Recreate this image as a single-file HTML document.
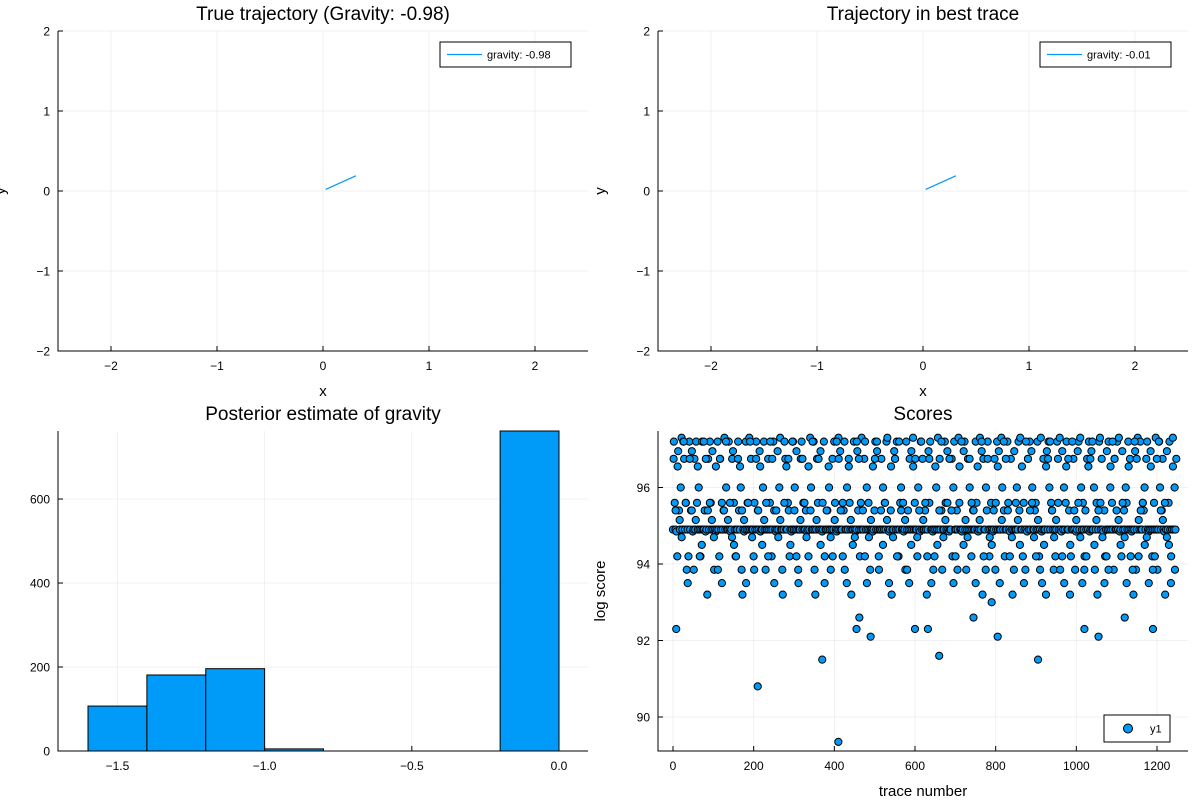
<!DOCTYPE html>
<html><head><meta charset="utf-8"><style>
body{margin:0;background:#fff}
svg{display:block;font-family:"Liberation Sans","DejaVu Sans",sans-serif}
</style></head><body>
<svg id="chart" width="1200" height="800" viewBox="0 0 1200 800"></svg>
<script>
// ---- data ----
const trajTrueX = [0.025, 0.31];
const trajTrueY = [0.02, 0.19];
const trajBestX = [0.025, 0.31];
const trajBestY = [0.02, 0.19];
const histEdges = [-1.6, -1.4, -1.2, -1.0, -0.8, -0.6, -0.4, -0.2, 0.0];
const histCounts = [107, 181, 196, 5, 0, 0, 0, 762];
const histTicks = [-1.5, -1.0, -0.5, 0.0];
const histYTicks = [0, 200, 400, 600];
const scoreLevels = {a:97.3,b:97.2,c:96.95,d:96.75,e:96.0,f:95.6,g:95.4,h:94.9,i:94.85,j:94.2,k:93.85,l:93.2,n:94.7,o:95.15,p:96.55,q:93.5,r:94.5};
const scoreCodes =
"hbfhijcgheahbdhfkhjbhgcihdhbfhehjhbhhgihldhbfhchkhihbhjdhfhgahehhbhihdcfhjhhbgheklhihbhfh"+
"ahdhhjfhbhghcihhebhkhhdhfhjhbghihcheahhlhbdhhfgjhihbhehchkhhdbhfhhgihjhaehhbhlhdfhhchih"+
"bjhhghehkhdhbfhihahchhjgbhhehdfhlhhbhihcghjhahhdbhehfhkhhihgbhchjhhdhehfhbahihglhhcdhbhj"+
"hfehhihkbhghdhchahfhhjehibhdhhghlhcfbhhihjhehahdhgkhhbfhchihhdjebhhghafhhihcbhkhdhehjhgh"+
"hbfhihahcldhhegbhjhfhihdkhbhchhaehgjhhbfhidhlhchhehbgahhjfhkhidhbhcehhgfhbhjhaihdhhlchbe"+
"hfghkhjhbdhahichehfbhhgljhhdhkihcbhaehfhjghdhbihchhekhflhbahdhigjhchbhehfhkdhhbhaihjchgh"+
"efhbhdhihlhckhajhbhhfgehdbhihchjhfhahkhbehgdhilhchfbhjhahehd";
const scoreCodes2 =
"dgponbfqdgkopjrbdgfonpkdqgbofnrjdpgoqfbnkdgprofjbdqgnokfpdrbgjqodfnpgbkodrfqgpnjobdgf"+
"kqpornbdfgjqnopdbkgrfoqpndjbgfokqrpdngbofjdqkprgbnofdgqjkpbrondfgqpobjkdnrgfpqobdgjnkf"+
"orpqbdgfnjokqrpdbgnofkjqpdrbgofnqkjpdbrogfnqjkpbdgorfnqpjkbdogfrnqpkjdbgofnrqpk";
const scoreTraces = Array.from(scoreCodes, (c, k) => k * 1250 / scoreCodes.length);
const scoreTraces2 = Array.from(scoreCodes2, (c, k) => 1.5 + k * 1248 / scoreCodes2.length);
const outlierTrace = [8, 210, 370, 410, 455, 462, 490, 600, 632, 660, 745, 790, 805, 905, 1020, 1055, 1120, 1190];
const outlierScore = [92.3, 90.8, 91.5, 89.35, 92.3, 92.6, 92.1, 92.3, 92.3, 91.6, 92.6, 93.0, 92.1, 91.5, 92.3, 92.1, 92.6, 92.3];
const scoreXTicks = [0, 200, 400, 600, 800, 1000, 1200];
const scoreYTicks = [90, 92, 94, 96];
const trajTicksX = [-2, -1, 0, 1, 2];
const trajTicksY = [-2, -1, 0, 1, 2];

// ---- drawing ----
const svg = document.getElementById('chart');
const NS = 'http://www.w3.org/2000/svg';
const BLUE = '#009af9';
function mk(tag, attrs, parent, text) {
  const e = document.createElementNS(NS, tag);
  for (const k in attrs) e.setAttribute(k, attrs[k]);
  if (text !== undefined) e.textContent = text;
  (parent || svg).appendChild(e);
  return e;
}
function lin(d0, d1, r0, r1) { return v => r0 + (v - d0) * (r1 - r0) / (d1 - d0); }
function fmt(v) { return String(v).replace('-', '\u2212'); }

function panel(name, L, T, R, B, sx, sy, xt, yt, xfmt, yfmt, title, xlabel, ylabel) {
  const g = mk('g', {});
  
  
  xt.forEach(v => {
    const gl = mk('line', {x1: sx(v), x2: sx(v), y1: T, y2: B, stroke: '#000', 'stroke-opacity': 0.1, 'stroke-width': 0.5}, g);
    
    
    mk('line', {x1: sx(v), x2: sx(v), y1: B, y2: B - 5, stroke: '#000', 'stroke-width': 1}, g);
    const t = mk('text', {x: sx(v), y: B + 19, 'text-anchor': 'middle', 'font-size': 12, fill: '#000'}, g, xfmt(v));
    
    
  });
  yt.forEach(v => {
    const gl = mk('line', {x1: L, x2: R, y1: sy(v), y2: sy(v), stroke: '#000', 'stroke-opacity': 0.1, 'stroke-width': 0.5}, g);
    
    
    mk('line', {x1: L, x2: L + 5, y1: sy(v), y2: sy(v), stroke: '#000', 'stroke-width': 1}, g);
    const t = mk('text', {x: L - 8, y: sy(v) + 4.5, 'text-anchor': 'end', 'font-size': 12, fill: '#000'}, g, yfmt(v));
    
    
  });
  const ax = mk('path', {d: `M${L},${T}V${B}H${R}`, fill: 'none', stroke: '#000', 'stroke-width': 1}, g);
  
  
  const tt = mk('text', {x: (L + R) / 2, y: T - 11, 'text-anchor': 'middle', 'font-size': 19, fill: '#000'}, g, title);
  
  
  if (xlabel) {
    const xl = mk('text', {x: (L + R) / 2, y: B + 45, 'text-anchor': 'middle', 'font-size': 15, fill: '#000'}, g, xlabel);
    
    
  }
  if (ylabel) {
    const cy = (T + B) / 2, cx = L - 53;
    const yl = mk('text', {x: cx, y: cy, 'text-anchor': 'middle', 'font-size': 15, fill: '#000', transform: `rotate(-90 ${cx} ${cy})`}, g, ylabel);
    
    
  }
  return g;
}

function legendLine(g, x, y, w, label) {
  const lg = mk('g', {}, g);
  
  
  mk('rect', {x: x, y: y, width: w, height: 25, fill: '#fff', stroke: '#000', 'stroke-width': 1}, lg);
  mk('line', {x1: x + 7, x2: x + 42, y1: y + 12.5, y2: y + 12.5, stroke: BLUE, 'stroke-width': 1.2}, lg);
  mk('text', {x: x + 47, y: y + 16.5, 'font-size': 11, fill: '#000'}, lg, label);
}

// Panel 1 & 2: trajectories
[[58, 'true-trajectory-panel', 'True trajectory (Gravity: -0.98)', trajTrueX, trajTrueY, 'gravity: -0.98'],
 [658, 'best-trace-panel', 'Trajectory in best trace', trajBestX, trajBestY, 'gravity: -0.01']].forEach(p => {
  const L = p[0], R = L + 530, T = 31, B = 351;
  const sx = lin(-2.5, 2.5, L, R), sy = lin(-2, 2, B, T);
  const g = panel(p[1], L, T, R, B, sx, sy, trajTicksX, trajTicksY, fmt, fmt, p[2], 'x', 'y');
  const pts = p[3].map((x, i) => sx(x) + ',' + sy(p[4][i])).join(' ');
  const tl = mk('polyline', {points: pts, fill: 'none', stroke: BLUE, 'stroke-width': 1.2}, g);
  
  
  legendLine(g, L + 382, 42, 131, p[5]);
});

// Panel 3: histogram
(function () {
  const L = 58, R = 588, T = 431, B = 751;
  const sx = lin(-1.6, 0.0, 88, 559), sy = lin(0, 762, B, T);
  const g = panel('gravity-histogram', L, T, R, B, sx, sy, histTicks, histYTicks,
    v => fmt(v.toFixed(1)), v => String(v), 'Posterior estimate of gravity', null, null);
  histCounts.forEach((c, i) => {
    if (c <= 0) return;
    const x0 = sx(histEdges[i]), x1 = sx(histEdges[i + 1]);
    const r = mk('rect', {x: x0, y: sy(c), width: x1 - x0, height: B - sy(c), fill: BLUE, stroke: '#000', 'stroke-width': 1}, g);
    
    
  });
})();

// Panel 4: scores scatter
(function () {
  const L = 658, R = 1188, T = 431, B = 751;
  const sx = lin(0, 1200, 673, 1157), sy = lin(90, 96, 717, 487.5);
  const g = panel('scores-scatter', L, T, R, B, sx, sy, scoreXTicks, scoreYTicks,
    v => String(v), v => String(v), 'Scores', 'trace number', 'log score');
  const pg = mk('g', {}, g);
  
  
  const dot = (x, y) => mk('circle', {cx: sx(x), cy: sy(y), r: 3.6, fill: BLUE, stroke: '#000', 'stroke-width': 1}, pg);
  scoreTraces.forEach((t, k) => dot(t, scoreLevels[scoreCodes[k]]));
  scoreTraces2.forEach((t, k) => dot(t, scoreLevels[scoreCodes2[k]]));
  outlierTrace.forEach((t, k) => dot(t, outlierScore[k]));
  const lg = mk('g', {}, g);
  
  
  mk('rect', {x: 1104, y: 715, width: 66, height: 27, fill: '#fff', stroke: '#000', 'stroke-width': 1}, lg);
  mk('circle', {cx: 1128, cy: 728.5, r: 4.5, fill: BLUE, stroke: '#000', 'stroke-width': 1}, lg);
  mk('text', {x: 1150, y: 732.5, 'font-size': 11, fill: '#000'}, lg, 'y1');
})();
</script>
</body></html>
